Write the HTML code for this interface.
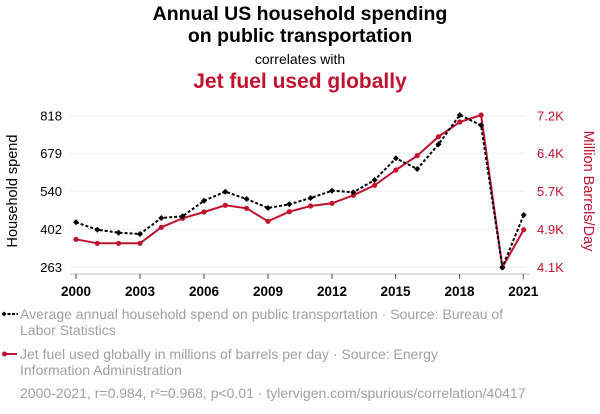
<!DOCTYPE html>
<html><head><meta charset="utf-8"><style>
html,body{margin:0;padding:0;background:#fff;}
svg{display:block;font-family:"Liberation Sans",Arial,sans-serif;}
</style></head><body>
<svg width="600" height="414" viewBox="0 0 600 414" xmlns="http://www.w3.org/2000/svg">
<text x="300" y="20" text-anchor="middle" font-size="19.5" font-weight="bold" fill="#000">Annual US household spending</text>
<text x="300" y="42" text-anchor="middle" font-size="19.5" font-weight="bold" fill="#000">on public transportation</text>
<text x="300" y="64" text-anchor="middle" font-size="14" fill="#000">correlates with</text>
<text x="300" y="88" text-anchor="middle" font-size="21" font-weight="bold" fill="#c0122f">Jet fuel used globally</text>

<g stroke="#eeeeee" stroke-width="1">
<line x1="70" x2="525" y1="115.7" y2="115.7"/>
<line x1="70" x2="525" y1="153.3" y2="153.3"/>
<line x1="70" x2="525" y1="191.3" y2="191.3"/>
<line x1="70" x2="525" y1="229.3" y2="229.3"/>
<line x1="70" x2="525" y1="267.3" y2="267.3"/>
</g>
<line x1="70" x2="530" y1="274" y2="274" stroke="#bbb" stroke-width="1"/>
<g stroke="#555" stroke-width="1">
<line x1="76" x2="76" y1="274" y2="279"/>
<line x1="140" x2="140" y1="274" y2="279"/>
<line x1="204" x2="204" y1="274" y2="279"/>
<line x1="268" x2="268" y1="274" y2="279"/>
<line x1="332" x2="332" y1="274" y2="279"/>
<line x1="395.5" x2="395.5" y1="274" y2="279"/>
<line x1="459.5" x2="459.5" y1="274" y2="279"/>
<line x1="523.3" x2="523.3" y1="274" y2="279"/>
</g>
<g font-size="13.5" font-weight="bold" fill="#000" text-anchor="middle">
<text x="76" y="296">2000</text><text x="140" y="296">2003</text><text x="204" y="296">2006</text><text x="268" y="296">2009</text><text x="332" y="296">2012</text><text x="395.5" y="296">2015</text><text x="459.5" y="296">2018</text><text x="523.3" y="296">2021</text>
</g>
<g font-size="13" fill="#000" text-anchor="end">
<text x="62" y="120.5">818</text><text x="62" y="158">679</text><text x="62" y="196">540</text><text x="62" y="234">402</text><text x="62" y="272">263</text>
</g>
<g font-size="13" fill="#c0122f">
<text x="537" y="120.5">7.2K</text><text x="537" y="158">6.4K</text><text x="537" y="196">5.7K</text><text x="537" y="234">4.9K</text><text x="537" y="272">4.1K</text>
</g>
<text transform="translate(17,191) rotate(-90)" text-anchor="middle" font-size="14.5" fill="#000">Household spend</text>
<text transform="translate(584,191) rotate(90)" text-anchor="middle" font-size="14.5" fill="#c0122f">Million Barrels/Day</text>

<polyline fill="none" stroke="#c0122f" stroke-width="2" points="76,239.3 97.3,243.3 118.6,243.3 140,243.3 161.3,227.3 182.6,218.3 204,212 225.3,205.3 246.6,208.3 268,221.3 289.3,211.7 310.6,206 332,203.3 353.3,195.3 374.6,185.3 395.9,170 417.2,155.7 438.5,136.7 459.8,122 481.1,115 502.4,267.3 523.7,229.7"/>
<g fill="#c0122f">
<circle cx="76" cy="239.3" r="2.6"/><circle cx="97.3" cy="243.3" r="2.6"/><circle cx="118.6" cy="243.3" r="2.6"/><circle cx="140" cy="243.3" r="2.6"/><circle cx="161.3" cy="227.3" r="2.6"/><circle cx="182.6" cy="218.3" r="2.6"/><circle cx="204" cy="212" r="2.6"/><circle cx="225.3" cy="205.3" r="2.6"/><circle cx="246.6" cy="208.3" r="2.6"/><circle cx="268" cy="221.3" r="2.6"/><circle cx="289.3" cy="211.7" r="2.6"/><circle cx="310.6" cy="206" r="2.6"/><circle cx="332" cy="203.3" r="2.6"/><circle cx="353.3" cy="195.3" r="2.6"/><circle cx="374.6" cy="185.3" r="2.6"/><circle cx="395.9" cy="170" r="2.6"/><circle cx="417.2" cy="155.7" r="2.6"/><circle cx="438.5" cy="136.7" r="2.6"/><circle cx="459.8" cy="122" r="2.6"/><circle cx="481.1" cy="115" r="2.6"/><circle cx="502.4" cy="267.3" r="2.6"/><circle cx="523.7" cy="229.7" r="2.6"/>
</g>

<polyline fill="none" stroke="#000" stroke-width="2" stroke-dasharray="3,2" points="76,222.3 97.3,229.7 118.6,232.7 140,234 161.3,218 182.6,216.3 204,200.7 225.3,191.7 246.6,199 268,208 289.3,204.3 310.6,198 332,190.7 353.3,192.3 374.6,180 395.9,158.3 417.2,169 438.5,144.3 459.8,115 481.1,125.3 502.4,267.3 523.7,215"/>
<g fill="#000" id="d">
<path d="M76,219.3l3,3l-3,3l-3,-3z"/><path d="M97.3,226.7l3,3l-3,3l-3,-3z"/><path d="M118.6,229.7l3,3l-3,3l-3,-3z"/><path d="M140,231l3,3l-3,3l-3,-3z"/><path d="M161.3,215l3,3l-3,3l-3,-3z"/><path d="M182.6,213.3l3,3l-3,3l-3,-3z"/><path d="M204,197.7l3,3l-3,3l-3,-3z"/><path d="M225.3,188.7l3,3l-3,3l-3,-3z"/><path d="M246.6,196l3,3l-3,3l-3,-3z"/><path d="M268,205l3,3l-3,3l-3,-3z"/><path d="M289.3,201.3l3,3l-3,3l-3,-3z"/><path d="M310.6,195l3,3l-3,3l-3,-3z"/><path d="M332,187.7l3,3l-3,3l-3,-3z"/><path d="M353.3,189.3l3,3l-3,3l-3,-3z"/><path d="M374.6,177l3,3l-3,3l-3,-3z"/><path d="M395.9,155.3l3,3l-3,3l-3,-3z"/><path d="M417.2,166l3,3l-3,3l-3,-3z"/><path d="M438.5,141.3l3,3l-3,3l-3,-3z"/><path d="M459.8,112l3,3l-3,3l-3,-3z"/><path d="M481.1,122.3l3,3l-3,3l-3,-3z"/><path d="M502.4,264.3l3,3l-3,3l-3,-3z"/><path d="M523.7,212l3,3l-3,3l-3,-3z"/>
</g>

<line x1="3" x2="18" y1="314" y2="314" stroke="#000" stroke-width="2" stroke-dasharray="3,1.5"/>
<path d="M4,311.5l2.5,2.5l-2.5,2.5l-2.5,-2.5z" fill="#000"/>
<g font-size="14" fill="#a0a0a0">
<text x="20" y="319">Average annual household spend on public transportation · Source: Bureau of</text>
<text x="20" y="335">Labor Statistics</text>
<text x="20" y="359">Jet fuel used globally in millions of barrels per day · Source: Energy</text>
<text x="20" y="375">Information Administration</text>
<text x="20" y="398">2000-2021, r=0.984, r²=0.968, p&lt;0.01 · tylervigen.com/spurious/correlation/40417</text>
</g>
<line x1="3" x2="17" y1="354" y2="354" stroke="#c0122f" stroke-width="2"/>
<circle cx="4.5" cy="354" r="2.5" fill="#c0122f"/>
</svg>
</body></html>
